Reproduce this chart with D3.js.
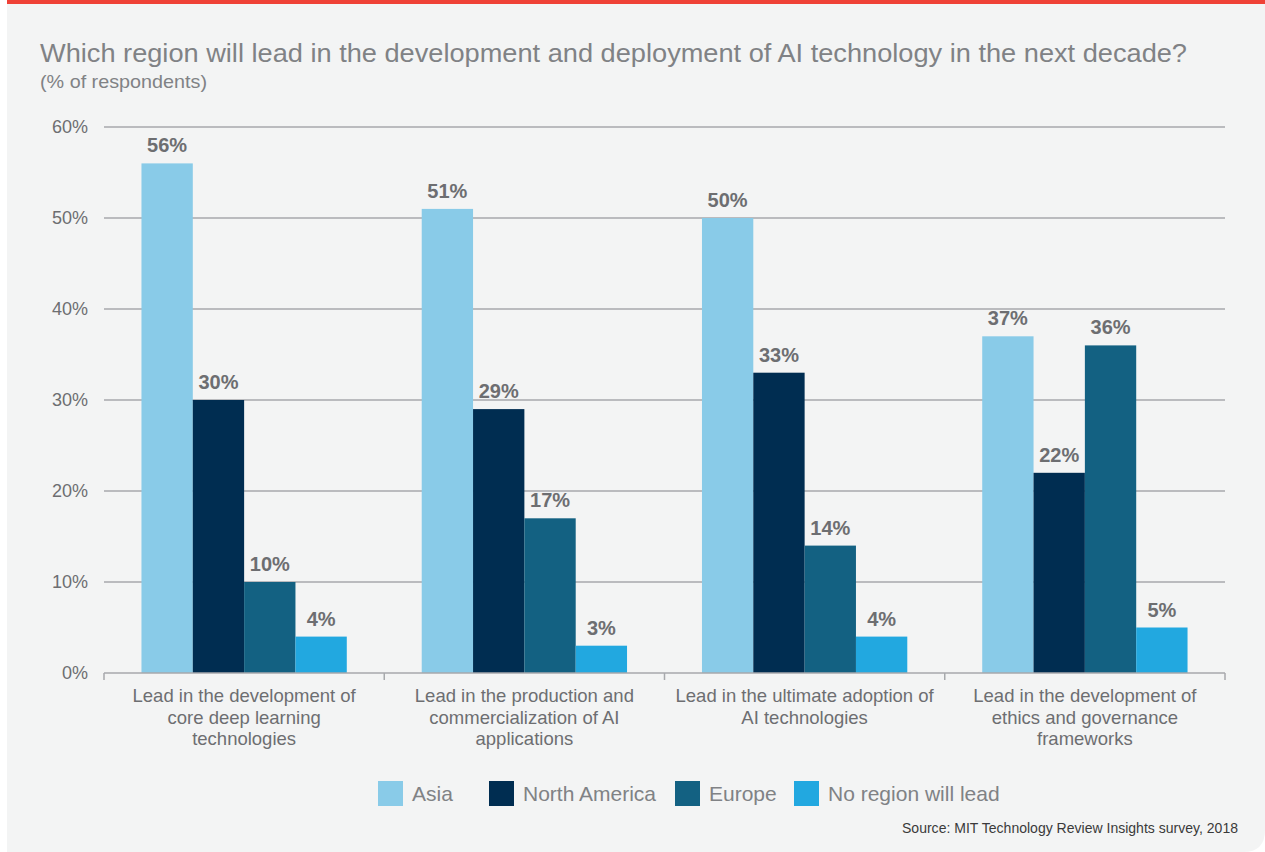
<!DOCTYPE html>
<html>
<head>
<meta charset="utf-8">
<script src="https://cdn.jsdelivr.net/npm/d3@7"></script>
<style>
  html, body { margin: 0; padding: 0; background: #ffffff; }
  svg { display: block; }
  text { font-family: "Liberation Sans", Arial, sans-serif; }
</style>
</head>
<body>
<svg id="chart" width="1265" height="852"></svg>
<script>
// Survey question categories (x groups) and their wrapped axis labels
const categories = ["Core deep learning", "Production and commercialization", "Ultimate adoption", "Ethics and governance"];
const categoryLines = [
  ["Lead in the development of", "core deep learning", "technologies"],
  ["Lead in the production and", "commercialization of AI", "applications"],
  ["Lead in the ultimate adoption of", "AI technologies"],
  ["Lead in the development of", "ethics and governance", "frameworks"]
];

// Series (regions) and % of respondents per category
const seriesNames = ["Asia", "North America", "Europe", "No region will lead"];
const asia = [56, 51, 50, 37];
const northAmerica = [30, 29, 33, 22];
const europe = [10, 17, 14, 36];
const noRegion = [4, 3, 4, 5];
const seriesValues = [asia, northAmerica, europe, noRegion];

const yTicks = [0, 10, 20, 30, 40, 50, 60];

const colors = ["#89cbe8", "#002d51", "#136182", "#22a8e0"];
const legendX = [378, 489, 675, 794];

const svg = d3.select("#chart");
const W = 1265, H = 852;

// Panel background with rounded lower-right corner and red top rule
const px = 7, pr = 22;
svg.append("path")
  .attr("d", `M${px},0 H${W} V${H - pr} Q${W},${H} ${W - pr},${H} H${px} Z`)
  .attr("fill", "#f3f4f4");
svg.append("rect").attr("x", px).attr("y", 0).attr("width", W - px).attr("height", 4).attr("fill", "#ef4136");

// Title block
svg.append("text")
  .attr("x", 40).attr("y", 62)
  .attr("font-family", "Roboto, 'Liberation Sans', sans-serif")
  .attr("font-weight", 300)
  .attr("font-size", 26)
  .attr("fill", "#808285")
  .attr("textLength", 1147).attr("lengthAdjust", "spacingAndGlyphs")
  .text("Which region will lead in the development and deployment of AI technology in the next decade?");
svg.append("text")
  .attr("x", 40).attr("y", 88)
  .attr("font-family", "Roboto, 'Liberation Sans', sans-serif")
  .attr("font-weight", 300)
  .attr("font-size", 19)
  .attr("fill", "#808285")
  .attr("textLength", 167).attr("lengthAdjust", "spacingAndGlyphs")
  .text("(% of respondents)");

// Scales
const y = d3.scaleLinear().domain([0, 60]).range([673, 127]);
const x = d3.scaleBand().domain(categories).range([104, 1225]).paddingInner(0).paddingOuter(0);
const xs = d3.scaleBand().domain(seriesNames).range([0, x.bandwidth()]).paddingInner(0).paddingOuter(0.73);

// Gridlines and y tick labels
const yAxis = d3.axisLeft(y).tickValues(yTicks).tickFormat(d => d + "%").tickSize(0).tickPadding(16);
const gy = svg.append("g").attr("transform", "translate(104,0)").call(yAxis);
gy.select(".domain").remove();
gy.selectAll("text")
  .attr("font-family", "'Liberation Sans', Arial, sans-serif")
  .attr("font-size", 18).attr("fill", "#6d6e71");
svg.append("g").selectAll("line").data(yTicks.filter(d => d > 0)).join("line")
  .attr("x1", 104).attr("x2", 1225)
  .attr("y1", d => y(d)).attr("y2", d => y(d))
  .attr("stroke", "#a7a9ac").attr("stroke-width", 1.5);

// Bars
const groups = svg.append("g").selectAll("g").data(categories).join("g")
  .attr("transform", d => `translate(${x(d)},0)`);

groups.each(function(cat, ci) {
  const g = d3.select(this);
  const rows = seriesNames.map((s, si) => ({ s, si, v: seriesValues[si][ci] }));
  g.selectAll("rect").data(rows).join("rect")
    .attr("x", d => xs(d.s))
    .attr("width", xs.bandwidth())
    .attr("y", d => y(d.v))
    .attr("height", d => y(0) - y(d.v))
    .attr("fill", d => colors[d.si]);
  g.selectAll("text.val").data(rows).join("text")
    .attr("class", "val")
    .attr("x", d => xs(d.s) + xs.bandwidth() / 2)
    .attr("y", d => y(d.v) - 11)
    .attr("text-anchor", "middle")
    .attr("font-size", 20).attr("font-weight", "bold")
    .attr("fill", "#6d6e71")
    .text(d => d.v + "%");
});

// X baseline with boundary ticks
svg.append("line").attr("x1", 104).attr("x2", 1225).attr("y1", y(0)).attr("y2", y(0))
  .attr("stroke", "#a7a9ac").attr("stroke-width", 1.5);
const bounds = categories.map(c => x(c)).concat([x.range()[1]]);
svg.append("g").selectAll("line").data(bounds).join("line")
  .attr("x1", d => d).attr("x2", d => d)
  .attr("y1", y(0)).attr("y2", y(0) + 7)
  .attr("stroke", "#a7a9ac").attr("stroke-width", 1.5);

// Category labels
const lab = svg.append("g").selectAll("text").data(categories).join("text")
  .attr("x", d => x(d) + x.bandwidth() / 2)
  .attr("y", 702)
  .attr("text-anchor", "middle")
  .attr("font-size", 18.5).attr("fill", "#6d6e71");
lab.each(function(d, i) {
  d3.select(this).selectAll("tspan").data(categoryLines[i]).join("tspan")
    .attr("x", x(d) + x.bandwidth() / 2)
    .attr("dy", (t, j) => j === 0 ? 0 : 21.5)
    .text(t => t);
});

// Legend
const leg = svg.append("g").selectAll("g").data(seriesNames).join("g")
  .attr("transform", (d, i) => `translate(${legendX[i]},781)`);
leg.append("rect").attr("width", 25).attr("height", 25).attr("fill", (d, i) => colors[i]);
leg.append("text").attr("x", 34).attr("y", 20)
  .attr("font-size", 21).attr("fill", "#808285")
  .text(d => d);

// Source note
svg.append("text")
  .attr("x", 1238).attr("y", 833)
  .attr("text-anchor", "end")
  .attr("font-size", 15).attr("fill", "#3a3a3a")
  .attr("textLength", 336).attr("lengthAdjust", "spacingAndGlyphs")
  .text("Source: MIT Technology Review Insights survey, 2018");
</script>
</body>
</html>
